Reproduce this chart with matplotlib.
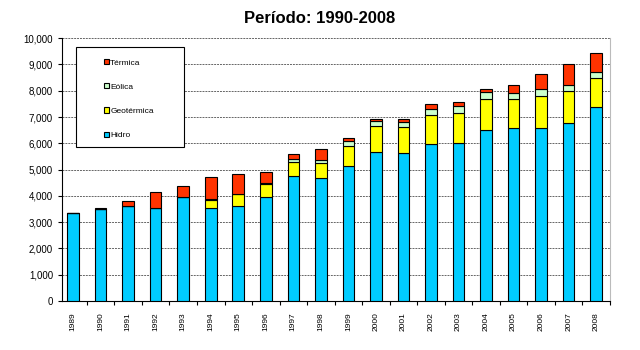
import numpy as np
import matplotlib
matplotlib.use('Agg')
import matplotlib.pyplot as plt
from matplotlib.patches import Rectangle
from matplotlib.ticker import FuncFormatter, FixedLocator

plt.rcParams['font.family'] = ['Liberation Sans', 'DejaVu Sans']

# data (MW)
years = [str(y) for y in range(1989, 2009)]
hidro = [3360, 3500, 3610, 3530, 3940, 3530, 3600, 3940, 4770, 4680,
         5130, 5670, 5640, 5975, 6025, 6517, 6580, 6590, 6770, 7375]
geotermica = [0, 0, 0, 0, 0, 330, 455, 520, 530, 570,
              780, 985, 990, 1095, 1135, 1173, 1110, 1210, 1220, 1125]
eolica = [0, 0, 0, 0, 0, 20, 20, 30, 100, 100,
          180, 190, 190, 240, 240, 275, 210, 280, 240, 200]
termica = [0, 45, 200, 610, 450, 840, 765, 410, 195, 430,
           125, 75, 90, 177, 175, 105, 330, 570, 770, 720]

series = [('Hidro', hidro, '#00CCFF'),
          ('Geotérmica', geotermica, '#FFFF00'),
          ('Eólica', eolica, '#CCFFCC'),
          ('Térmica', termica, '#FF3300')]

fig = plt.figure(figsize=(6.4, 3.5), dpi=100)
ax = fig.add_axes([0.097, 0.14, 0.856, 0.751])

x = np.arange(len(years))
bottom = np.zeros(len(years))
handles = {}
for name, vals, col in series:
    vals = np.array(vals, dtype=float)
    b = ax.bar(x, vals, 0.42, bottom=bottom, color=col, edgecolor='black',
               linewidth=0.8, label=name, zorder=3)
    handles[name] = b
    bottom += vals

ax.set_ylim(0, 10000)
ax.set_xlim(-0.4, 19.5)
ax.set_yticks(np.arange(0, 10001, 1000))
ax.yaxis.set_major_formatter(FuncFormatter(lambda v, p: '{:,.0f}'.format(v)))
ax.tick_params(axis='y', labelsize=7, direction='out', length=3, width=0.8)
ax.yaxis.grid(True, linestyle=(0, (2, 1)), color='#666666', linewidth=0.7, zorder=0)

ax.set_xticks(x)
ax.set_xticklabels(years, rotation=90, fontsize=6)
ax.tick_params(axis='x', which='major', length=0, pad=8)
ax.xaxis.set_minor_locator(FixedLocator(np.arange(-0.5, 20, 1)))
ax.tick_params(axis='x', which='minor', length=3, width=0.8, direction='out')

ax.spines['top'].set_visible(False)
ax.spines['right'].set_color('#bbbbbb')
ax.spines['left'].set_linewidth(0.8)
ax.spines['bottom'].set_linewidth(0.8)

# legend box
box = Rectangle((76 / 640, 1 - 147 / 350), 108 / 640, 100 / 350,
                transform=fig.transFigure, facecolor='white', edgecolor='black',
                linewidth=0.8, zorder=5)
fig.patches.append(box)
order = ['Térmica', 'Eólica', 'Geotérmica', 'Hidro']
leg = fig.legend([handles[n] for n in order], order, loc='upper left',
                 bbox_to_anchor=(0.15, 0.853), frameon=False, fontsize=6,
                 handlelength=0.6, handleheight=0.6, handletextpad=0.2,
                 labelspacing=2.0)
leg.set_zorder(6)

fig.text(0.5, 0.935, 'Período: 1990-2008', ha='center', fontsize=12, fontweight='bold')

fig.savefig('out.png', dpi=100)
